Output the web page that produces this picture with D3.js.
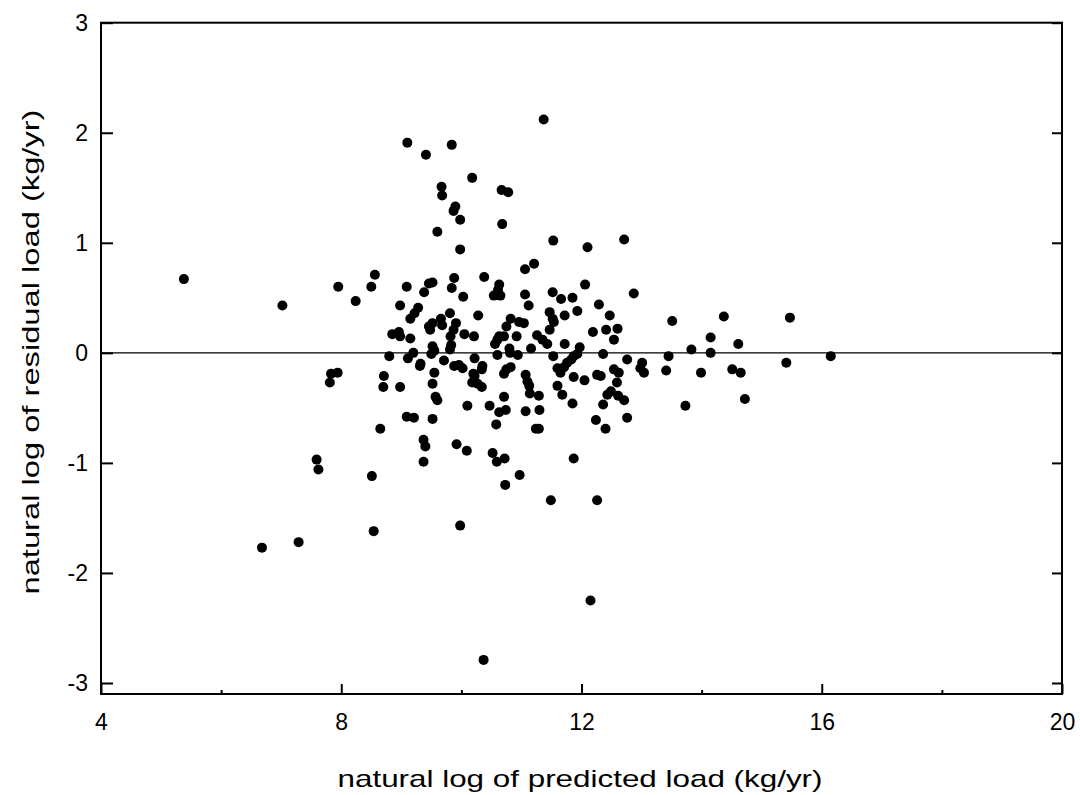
<!DOCTYPE html>
<html>
<head>
  <meta charset="utf-8">
  <title>Residuals vs predicted load</title>
  <script src="https://d3js.org/d3.v7.min.js"></script>
  <style>
    body { margin: 0; background: #fff; }
    text { font-family: "Liberation Sans", Arial, sans-serif; fill: #000; }
  </style>
</head>
<body>
  <svg id="chart"></svg>

  <script>
    // natural log of predicted load (x) and of residual load (y)
    var predicted = [
      5.38, 7.02, 7.95, 8.24, 8.50, 8.56, 9.09, 8.98, 9.46, 9.52, 9.38, 9.28, 9.22, 9.15, 9.46, 9.48,
      9.52, 8.85, 8.96, 8.98, 9.15, 9.52, 9.55, 9.20, 8.80, 9.11, 9.32, 9.31, 9.55, 9.52, 8.71, 8.70,
      8.98, 7.83, 7.94, 7.81, 9.57, 9.60, 9.09, 9.21, 9.52, 8.65, 9.60, 9.37, 9.40, 9.37, 7.59, 7.62,
      8.51, 8.54, 7.29, 6.68, 9.98, 11.53, 12.10, 11.21, 11.06, 10.38, 9.88, 9.84, 10.03, 10.63, 10.54, 10.65,
      10.61, 11.06, 11.12, 11.52, 11.66, 11.85, 12.06, 12.29, 12.47, 9.81, 9.66, 9.68, 9.91, 9.87, 9.82, 10.28,
      10.05, 10.21, 10.82, 10.96, 11.04, 10.75, 10.92, 10.63, 10.60, 10.56, 10.71, 11.26, 11.35, 11.43, 11.47, 11.47,
      11.52, 11.54, 11.72, 11.93, 12.19, 12.41, 12.54, 12.60, 11.72, 11.97, 11.16, 10.80, 10.81, 10.94, 10.60, 10.22,
      9.50, 9.83, 9.81, 11.53, 11.93, 12.36, 9.71, 9.88, 9.96, 10.02, 10.35, 10.34, 10.20, 10.22, 10.82, 10.75,
      10.71, 10.18, 10.27, 10.34, 11.07, 11.10, 11.13, 11.14, 11.29, 11.60, 11.65, 11.71, 11.76, 11.83, 11.87, 11.87,
      12.05, 11.60, 11.68, 11.85, 12.26, 12.32, 12.54, 12.59, 12.49, 12.43, 12.36, 12.24, 10.10, 10.47, 10.71, 10.63,
      10.74, 11.07, 11.30, 10.58, 11.24, 11.29, 12.40, 9.92, 10.09, 10.52, 10.59, 10.72, 10.97, 10.73, 11.87, 11.49,
      12.26, 9.98, 12.15, 10.37, 11.37, 9.10, 9.41, 9.84, 10.18, 9.67, 9.68, 9.90, 9.87, 9.98, 10.67, 10.78,
      10.68, 12.71, 12.87, 13.51, 14.37, 15.47, 14.15, 14.61, 13.83, 14.15, 12.76, 13.45, 13.01, 12.98, 13.04, 13.41,
      13.99, 14.51, 14.65, 15.41, 14.72, 13.73, 12.62, 12.61, 12.71, 12.76, 16.15
    ];
    var residual = [
      0.67, 0.43, 0.60, 0.47, 0.60, 0.71, 0.60, 0.43, 0.63, 0.64, 0.55, 0.41, 0.36, 0.31, 0.24, 0.21,
      0.27, 0.17, 0.19, 0.15, 0.13, 0.06, 0.02, 0.00, -0.03, -0.05, -0.10, -0.12, -0.18, -0.28, -0.21, -0.31,
      -0.31, -0.19, -0.18, -0.27, -0.40, -0.43, -0.58, -0.59, -0.60, -0.69, 1.10, -0.79, -0.85, -0.99, -0.97, -1.06,
      -1.12, -1.62, -1.72, -1.77, 0.94, 1.02, 0.96, 0.81, 0.76, 0.69, 0.68, 0.59, 0.51, 0.62, 0.52, 0.52,
      0.57, 0.53, 0.43, 0.55, 0.49, 0.50, 0.62, 0.44, 0.34, 0.36, 0.31, 0.25, 0.27, 0.21, 0.15, 0.34,
      0.17, 0.15, 0.31, 0.28, 0.27, 0.24, 0.15, 0.15, 0.12, 0.08, 0.15, 0.16, 0.12, 0.08, 0.21, 0.37,
      0.31, 0.28, 0.34, 0.38, 0.19, 0.21, 0.12, 0.22, 0.08, 0.05, 0.04, 0.04, 0.00, -0.02, -0.02, -0.05,
      -0.01, 0.07, 0.03, -0.03, -0.01, -0.01, -0.07, -0.12, -0.11, -0.14, -0.12, -0.15, -0.19, -0.21, -0.13, -0.15,
      -0.19, -0.27, -0.28, -0.31, -0.20, -0.26, -0.30, -0.37, -0.39, -0.14, -0.18, -0.13, -0.09, -0.06, -0.03, -0.22,
      -0.25, -0.30, -0.38, -0.46, -0.20, -0.21, -0.15, -0.27, -0.35, -0.38, -0.47, -0.61, -0.48, -0.48, -0.40, -0.54,
      -0.52, -0.53, -0.52, -0.65, -0.69, -0.69, -0.69, -0.83, -0.89, -0.91, -0.99, -0.96, -1.11, -1.20, -0.96, -1.34,
      -1.34, -1.57, -2.25, -2.79, 2.12, 1.91, 1.80, 1.89, 1.59, 1.51, 1.43, 1.33, 1.29, 1.21, 1.48, 1.46,
      1.17, 1.03, 0.54, 0.29, 0.33, 0.32, 0.14, 0.08, 0.03, 0.00, -0.06, -0.03, -0.09, -0.14, -0.18, -0.16,
      -0.18, -0.15, -0.18, -0.09, -0.42, -0.48, -0.18, -0.39, -0.43, -0.59, -0.03
    ];

    var xMajor = [4, 8, 12, 16, 20];
    var xMinor = [6, 10, 14, 18];
    var yTicks = [-3, -2, -1, 0, 1, 2, 3];

    var xTitle = "natural log of predicted load (kg/yr)";
    var yTitle = "natural log of residual load (kg/yr)";

    var width = 1080, height = 795;

    var svg = d3.select("#chart")
      .attr("width", width)
      .attr("height", height);

    var x = d3.scaleLinear().domain([4, 20]).range([101, 1062]);
    var y = d3.scaleLinear().domain([-3.1, 3]).range([694, 22.7]);

    var points = predicted.map(function(d, i) { return [d, residual[i]]; });

    // plain hyphen for negatives, like the original
    var fmt = function(d) { return String(d); };

    // zero reference line
    svg.append("line")
      .attr("x1", x(4)).attr("x2", x(20))
      .attr("y1", y(0)).attr("y2", y(0))
      .attr("stroke", "#000")
      .attr("stroke-width", 1.3);

    // dots
    svg.append("g")
      .selectAll("circle")
      .data(points)
      .join("circle")
      .attr("cx", function(d) { return x(d[0]); })
      .attr("cy", function(d) { return y(d[1]); })
      .attr("r", 5)
      .attr("fill", "#000");

    // bottom axis, ticks pointing in
    var gx = svg.append("g")
      .attr("transform", "translate(0," + y.range()[0] + ")")
      .call(d3.axisBottom(x).tickValues(xMajor).tickSize(-10).tickPadding(20).tickFormat(fmt));

    svg.append("g")
      .attr("transform", "translate(0," + y.range()[0] + ")")
      .call(d3.axisBottom(x).tickValues(xMinor).tickSize(-4).tickFormat(""))
      .call(function(g) { g.select(".domain").remove(); });

    var gy = svg.append("g")
      .attr("transform", "translate(" + x.range()[0] + ",0)")
      .call(d3.axisLeft(y).tickValues(yTicks).tickSize(-12).tickPadding(13).tickFormat(fmt));

    svg.append("g")
      .attr("transform", "translate(" + x.range()[1] + ",0)")
      .call(d3.axisRight(y).tickValues(yTicks).tickSize(-10).tickFormat(""))
      .call(function(g) { g.select(".domain").remove(); });

    svg.selectAll(".tick line").attr("stroke", "#000").attr("stroke-width", 2);
    svg.selectAll(".tick text").attr("font-size", 23).attr("font-family", "'Liberation Sans', Arial, sans-serif");
    gx.select(".domain").remove();
    gy.select(".domain").remove();

    // frame
    svg.append("rect")
      .attr("x", x.range()[0]).attr("y", y.range()[1])
      .attr("width", x.range()[1] - x.range()[0])
      .attr("height", y.range()[0] - y.range()[1])
      .attr("fill", "none")
      .attr("stroke", "#000")
      .attr("stroke-width", 2);

    // axis titles, stretched to the width they have in the original
    svg.append("text")
      .attr("x", 580).attr("y", 787)
      .attr("text-anchor", "middle")
      .attr("font-size", 24)
      .attr("textLength", 485)
      .attr("lengthAdjust", "spacingAndGlyphs")
      .text(xTitle);

    svg.append("text")
      .attr("transform", "translate(39,352) rotate(-90)")
      .attr("text-anchor", "middle")
      .attr("font-size", 24)
      .attr("textLength", 485)
      .attr("lengthAdjust", "spacingAndGlyphs")
      .text(yTitle);
  </script>
</body>
</html>
